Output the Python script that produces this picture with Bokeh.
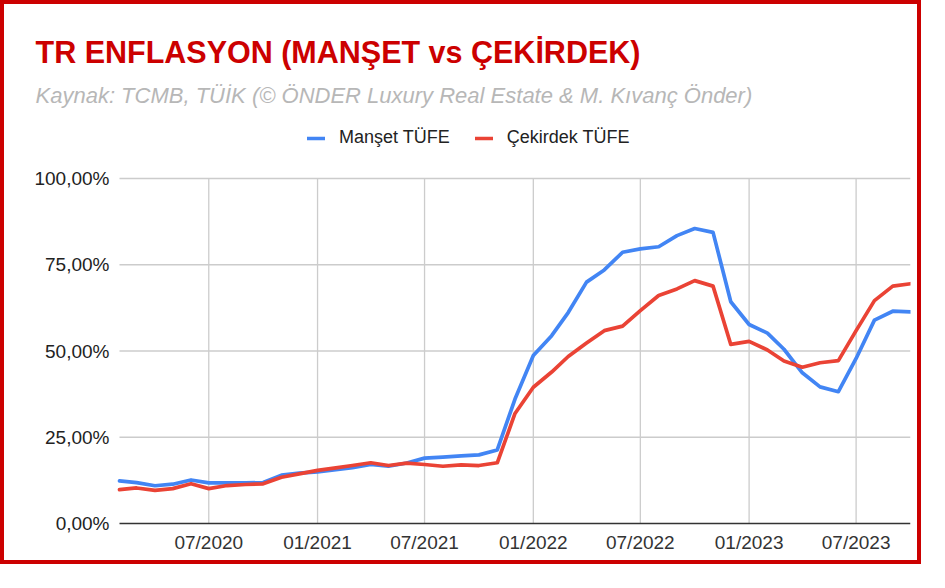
import pandas as pd
from bokeh.plotting import figure
from bokeh.models import (Label, Legend, LegendItem, FixedTicker, DatetimeTickFormatter,
                          Range1d, ColumnDataSource)
from bokeh.embed import file_html
from bokeh.resources import INLINE

# ---------------- data ----------------
months = [
    "2020-02", "2020-03", "2020-04", "2020-05", "2020-06", "2020-07", "2020-08", "2020-09",
    "2020-10", "2020-11", "2020-12",
    "2021-01", "2021-02", "2021-03", "2021-04", "2021-05", "2021-06", "2021-07", "2021-08",
    "2021-09", "2021-10", "2021-11", "2021-12",
    "2022-01", "2022-02", "2022-03", "2022-04", "2022-05", "2022-06", "2022-07", "2022-08",
    "2022-09", "2022-10", "2022-11", "2022-12",
    "2023-01", "2023-02", "2023-03", "2023-04", "2023-05", "2023-06", "2023-07", "2023-08",
    "2023-09", "2023-10",
]
manset_tufe = [
    12.37, 11.86, 10.94, 11.39, 12.62, 11.76, 11.77, 11.75, 11.89, 14.03, 14.60,
    14.97, 15.61, 16.19, 17.14, 16.59, 17.53, 18.95, 19.25, 19.58, 19.89, 21.31, 36.08,
    48.69, 54.44, 61.14, 69.97, 73.50, 78.62, 79.60, 80.21, 83.45, 85.51, 84.39, 64.27,
    57.68, 55.18, 50.51, 43.68, 39.59, 38.21, 47.83, 58.94, 61.53, 61.36,
]
cekirdek_tufe = [
    9.8, 10.3, 9.6, 10.1, 11.5, 10.1, 11.0, 11.3, 11.5, 13.4, 14.4,
    15.4, 16.1, 16.8, 17.6, 16.8, 17.5, 17.1, 16.6, 17.0, 16.8, 17.6, 31.9,
    39.5, 43.9, 48.4, 52.3, 55.9, 57.2, 61.7, 66.1, 68.0, 70.4, 68.8, 51.9,
    52.8, 50.3, 47.1, 45.3, 46.6, 47.2, 55.9, 64.6, 68.8, 69.5,
]
series_names = ["Manşet TÜFE", "Çekirdek TÜFE"]
series_colors = ["#4285F4", "#EA4335"]
x_tick_months = ["2020-07", "2021-01", "2021-07", "2022-01", "2022-07", "2023-01", "2023-07"]
y_ticks = [0, 25, 50, 75, 100]
y_tick_labels = ["0,00%", "25,00%", "50,00%", "75,00%", "100,00%"]
title_text = "TR ENFLASYON (MANŞET vs ÇEKİRDEK)"
subtitle_text = "Kaynak: TCMB, TÜİK (© ÖNDER Luxury Real Estate & M. Kıvanç Önder)"

FONT = "Liberation Sans"
LW = 3.7

# ---------------- geometry (pixels) ----------------
W, H = 921, 564           # canvas inside the 4px red border
PLOT_LEFT = 115           # where the data area starts inside the canvas
PLOT_W = 791              # width of the data area
PLOT_TOP = 174            # where 100 % sits inside the canvas
PLOT_H = 345              # height of the 0..100 % area
BELOW = H - PLOT_TOP - PLOT_H   # room under the 0 % line for the date labels

dates = pd.to_datetime(months, format="%Y-%m")
t0 = dates[0].value / 1e6
t1 = dates[-1].value / 1e6
ms_per_px = (t1 - t0) / PLOT_W
x_start = t0 - PLOT_LEFT * ms_per_px
units_per_px = (max(y_ticks) - min(y_ticks)) / PLOT_H
y_start = min(y_ticks) - BELOW * units_per_px
y_end = max(y_ticks) + PLOT_TOP * units_per_px

src = ColumnDataSource(dict(date=dates, manset=manset_tufe, cekirdek=cekirdek_tufe))
tick_ms = [pd.Timestamp(m + "-01").value / 1e6 for m in x_tick_months]

p = figure(width=W, height=H, x_axis_type="datetime",
           x_range=Range1d(x_start, t1), y_range=Range1d(y_start, y_end),
           output_backend="svg", toolbar_location=None,
           min_border_left=0, min_border_right=W - PLOT_LEFT - PLOT_W,
           min_border_top=0, min_border_bottom=0,
           background_fill_color="white", border_fill_color="white",
           outline_line_color=None,
           styles={"border": "4px solid #cc0000"})
p.xgrid.visible = False
p.ygrid.visible = False

# grid lines limited to the data area
p.segment(x0=t0, x1=t1, y0=y_ticks[1:], y1=y_ticks[1:], line_color="#cccccc", line_width=1.3)
p.segment(x0=tick_ms, x1=tick_ms, y0=min(y_ticks), y1=max(y_ticks),
          line_color="#cccccc", line_width=1.3)
p.segment(x0=t0, x1=t1, y0=min(y_ticks), y1=min(y_ticks), line_color="#333333", line_width=1.5)

r1 = p.line("date", "manset", source=src, line_color=series_colors[0], line_width=LW,
            line_join="round", line_cap="round")
r2 = p.line("date", "cekirdek", source=src, line_color=series_colors[1], line_width=LW,
            line_join="round", line_cap="round")

# x axis pinned at 0 %
p.xaxis.fixed_location = min(y_ticks)
p.xaxis.ticker = FixedTicker(ticks=tick_ms)
p.xaxis.formatter = DatetimeTickFormatter(
    years="%m/%Y", months="%m/%Y", days="%m/%Y", hours="%m/%Y", minutes="%m/%Y",
    hourmin="%m/%Y", seconds="%m/%Y", minsec="%m/%Y", milliseconds="%m/%Y",
    microseconds="%m/%Y")
p.xaxis.axis_line_color = None
p.xaxis.major_tick_line_color = None
p.xaxis.minor_tick_line_color = None
p.xaxis.major_tick_out = 0
p.xaxis.major_tick_in = 0
p.xaxis.major_label_text_font = FONT
p.xaxis.major_label_text_font_size = "19px"
p.xaxis.major_label_text_color = "#333333"
p.xaxis.major_label_standoff = 8

# y axis pinned at the start of the data
p.yaxis.fixed_location = t0
p.yaxis.ticker = FixedTicker(ticks=y_ticks)
p.yaxis.major_label_overrides = {t: l for t, l in zip(y_ticks, y_tick_labels)}
p.yaxis.axis_line_color = None
p.yaxis.major_tick_line_color = None
p.yaxis.minor_tick_line_color = None
p.yaxis.major_tick_out = 0
p.yaxis.major_tick_in = 0
p.yaxis.major_label_text_font = FONT
p.yaxis.major_label_text_font_size = "19px"
p.yaxis.major_label_text_color = "#222222"
p.yaxis.major_label_standoff = 10

# title, subtitle (screen units: from the frame's bottom-left corner)
p.add_layout(Label(x=31, y=H - 47, x_units="screen", y_units="screen",
                   text=title_text, text_font=FONT, text_font_size="30.5px",
                   text_font_style="bold", text_color="#cc0000",
                   text_baseline="alphabetic"))
p.add_layout(Label(x=31, y=H - 91, x_units="screen", y_units="screen",
                   text=subtitle_text, text_font=FONT, text_font_size="22px",
                   text_font_style="italic", text_color="#b7b7b7",
                   text_baseline="alphabetic"))

legend = Legend(items=[LegendItem(label=series_names[0], renderers=[r1]),
                       LegendItem(label=series_names[1], renderers=[r2])],
                location=(303, H - 144), orientation="horizontal",
                glyph_width=18, glyph_height=18, label_standoff=14, spacing=25,
                padding=0, margin=0, border_line_color=None, background_fill_alpha=0,
                label_text_font=FONT, label_text_font_size="18px",
                label_text_color="#222222")
p.add_layout(legend)

open("out.html", "w").write(file_html(p, INLINE))
